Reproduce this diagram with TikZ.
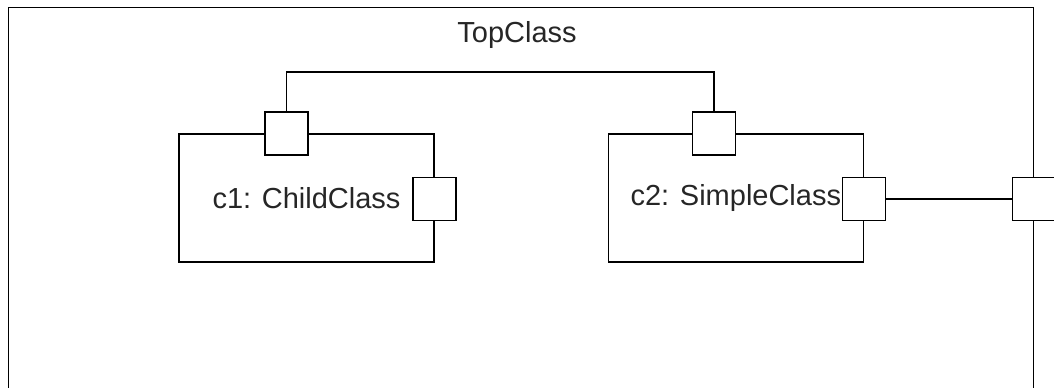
\documentclass[tikz,border=0pt]{standalone}
\usepackage{fontspec}
\setmainfont{Liberation Sans}
\usetikzlibrary{positioning}

\tikzset{
  frame/.style={draw, line width=0.8pt, inner sep=0pt, minimum width=20.5cm, minimum height=8cm, anchor=north west},
  part/.style={draw, line width=0.8pt, inner sep=0pt, minimum width=5.1cm, minimum height=2.56cm},
  port/.style={draw, fill=white, line width=0.8pt, inner sep=0pt, minimum size=0.86cm},
  wire/.style={line width=0.8pt},
}

\begin{document}
\begin{tikzpicture}[x=0.02cm, y=-0.02cm, font=\fontsize{16.5}{20}\selectfont, text=black!85]
  \useasboundingbox (0,0) rectangle (1054,387);
  \clip (0,0) rectangle (1054,387);

  \node[frame] (top) at (8,7) {};
  \node (title) at (517,35) {TopClass};

  \node[part] (c1) at (306.5,198) {c1: ChildClass};
  \node[part, right=3.46cm of c1] (c2) {c2: SimpleClass};

  \node[port] (c1up) at (c1.north -| 286.5,0) {};
  \node[port] (c1side) at (c1.east |- 0,199) {};
  \node[port] (c2up) at (c2.north -| 714,0) {};
  \node[port] (c2side) at (c2.east |- 0,199) {};
  \node[port] (topside) at (top.east |- 0,199) {};

  \draw[wire] (c1up.north) -- (c1up.north |- 0,72) -| (c2up.north);
  \draw[wire] (c2side.east) -- (topside.west);
\end{tikzpicture}
\end{document}
